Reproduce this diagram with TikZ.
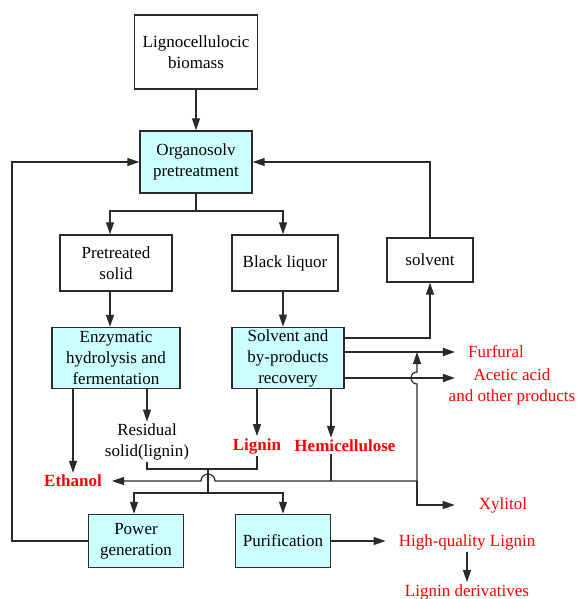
\documentclass[tikz,border=0pt]{standalone}
\usepackage{fontspec}
\setmainfont{Liberation Serif}
\usetikzlibrary{arrows.meta}
\definecolor{boxcyan}{HTML}{CCFFFF}
\definecolor{linegray}{HTML}{2A2A2A}
\definecolor{outred}{HTML}{FF0000}
\tikzset{
  flow/.style={draw=linegray, line width=1.2pt},
  arr/.style={flow, -{Triangle[length=12pt,width=8pt]}},
  plainbox/.style={draw=linegray, line width=1.4pt, fill=white, align=center, inner sep=2pt},
  procbox/.style={plainbox, fill=boxcyan},
  outlbl/.style={text=outred, align=center, inner sep=2pt},
}
\begin{document}
\begin{tikzpicture}[x=1pt,y=-1pt,font=\fontsize{17}{21}\selectfont]
\useasboundingbox (0,0) rectangle (580,599);
%boxes
\foreach \n/\x/\y/\w/\h/\t in {bio/196/52/123/74/{Lignocellulocic\\biomass},
  pre/116/263/112/56/{Pretreated\\solid}, blk/285/263/106/56/{Black liquor},
  sol/430/260/86/44/{solvent}} {
  \node[plainbox, minimum width=\w pt, minimum height=\h pt] (\n) at (\x,\y) {\t};
}
\foreach \n/\x/\y/\w/\h/\t in {org/196/162/112/62/{Organosolv\\pretreatment},
  enz/116/358/128/61/{Enzymatic\\hydrolysis and\\fermentation},
  rec/288/358/112/61/{Solvent and\\by-products\\recovery},
  pow/136/541/95/53/{Power\\generation}, pur/283/541/95/53/{Purification}} {
  \node[procbox, minimum width=\w pt, minimum height=\h pt] (\n) at (\x,\y) {\t};
}
%outputs
\node[align=center, inner sep=2pt] (res) at (147,442) {Residual\\solid(lignin)};
\foreach \n/\x/\y/\t in {eth/73/481/{\bfseries Ethanol}, lig/257/446/{\bfseries Lignin},
  hem/345/446/{\bfseries Hemicellulose}, fur/496/352/{Furfural},
  ace/512/387/{Acetic acid\\and other products}, xyl/503/505/{Xylitol},
  hql/467/542/{High-quality Lignin}, der/467/592/{Lignin derivatives}} {
  \node[outlbl] (\n) at (\x,\y) {\t};
}
%connectors
\coordinate (lft) at (12,0);
\coordinate (sp1) at (196,211);
\coordinate (mg) at (208,469);
\coordinate (sp2) at (208,493);
\coordinate (jn) at (417,481);
\coordinate (hopa) at (417,378);
\coordinate (hopb) at (208,481);
\draw[arr] (bio) -- (org);
\draw[arr] (pow.west) -- (pow.west -| lft) |- (org.west);
\draw[arr] (sol.north) |- (org.east);
\draw[flow] (org.south) -- (sp1);
\draw[arr] (sp1) -| ([xshift=-6pt]pre.north);
\draw[arr] (sp1) -| ([xshift=-2pt]blk.north);
\draw[arr] ([xshift=-6pt]pre.south) -- ([xshift=-6pt]enz.north);
\draw[arr] ([xshift=-2pt]blk.south) -- ([xshift=-2pt]blk.south |- rec.north);
\draw[arr] ([yshift=20pt]rec.east) -| (sol.south);
\draw[arr] ([yshift=6pt]rec.east) -- ([xshift=-11pt]fur.west);
\draw[arr] ([yshift=-20pt]rec.east) -- ([xshift=-11pt,yshift=-20pt]rec.east -| fur.west);
\draw[arr] (eth.north |- enz.south) -- (eth.north);
\draw[arr] (res.north |- enz.south) -- (res.north);
\draw[arr] (lig.north |- rec.south) -- (lig.north);
\draw[arr] ([xshift=43pt]rec.south) -- ([xshift=43pt]rec.south |- hem.north);
\draw[flow] ([xshift=-14pt]hem.south) -- ([xshift=-14pt]hem.south |- jn);
\draw[arr] (jn) -- ([yshift=-6pt]hopa) arc[start angle=90, end angle=270, radius=6] -- (jn |- fur.west);
\draw[arr] (jn) -- ([xshift=7pt]hopb) arc[start angle=0, end angle=-180, radius=7] -- ([xshift=8pt]eth.east);
\draw[arr] (jn) |- ([xshift=-22pt]xyl.west);
\draw[flow] (res.south) |- (mg) -| (lig.south);
\draw[flow] (mg) -- (sp2);
\draw[arr] (sp2) -| ([xshift=-2pt]pow.north);
\draw[arr] (sp2) -| (pur.north);
\draw[arr] (pur.east) -- ([xshift=-11pt]pur.east -| hql.west);
\draw[arr] (hql) -- (der);
\end{tikzpicture}
\end{document}
